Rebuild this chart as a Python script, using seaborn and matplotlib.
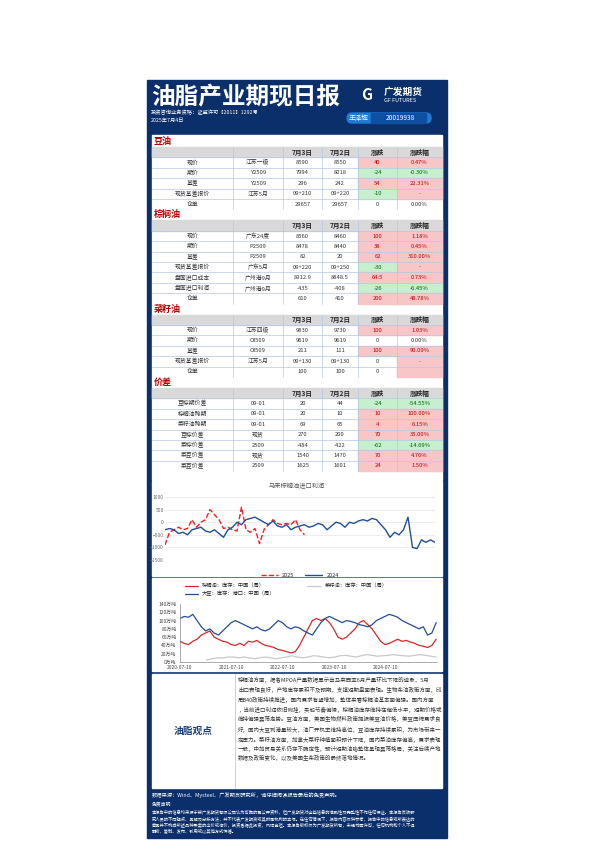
import textwrap
import numpy as np
import pandas as pd
import matplotlib
matplotlib.use("Agg")
import matplotlib.pyplot as plt
from matplotlib.patches import Rectangle, FancyBboxPatch
import seaborn as sns

sns.set_theme(style="white")
plt.rcParams['font.family'] = ['Noto Sans CJK SC', 'DejaVu Sans']

NAVY = "#0b2f6b"
PINK = "#f8c6c6"
GREEN = "#c6efce"
RED_TXT = "#c00000"
GREEN_TXT = "#006100"

# ---------------- table data ----------------
dates = ["7月3日", "7月2日"]
head = ["", "", dates[0], dates[1], "涨跌", "涨跌幅"]

soy_rows = [
    ["现价", "江苏一级", "8590", "8550", "40", "0.47%"],
    ["期价", "Y2509", "7994", "8018", "-24", "-0.30%"],
    ["基差", "Y2509", "296", "242", "54", "22.31%"],
    ["现货基差报价", "江苏5月", "09+210", "09+220", "-10", "-"],
    ["仓单", "", "29657", "29657", "0", "0.00%"],
]
palm_rows = [
    ["现价", "广东24度", "8560", "8460", "100", "1.18%"],
    ["期价", "P2509", "8478", "8440", "38", "0.45%"],
    ["基差", "P2509", "82", "20", "62", "310.00%"],
    ["现货基差报价", "广东5月", "09+220", "09+250", "-30", "-"],
    ["盘面进口成本", "广州港9月", "8912.9", "8848.5", "64.5", "0.73%"],
    ["盘面进口利润", "广州港9月", "-435", "-408", "-26", "-6.45%"],
    ["仓单", "", "610", "410", "200", "48.78%"],
]
rape_rows = [
    ["现价", "江苏四级", "9830", "9730", "100", "1.03%"],
    ["期价", "OI509", "9619", "9619", "0", "0.00%"],
    ["基差", "OI509", "211", "111", "100", "90.09%"],
    ["现货基差报价", "江苏5月", "09+130", "09+130", "0", "-"],
    ["仓单", "", "100", "100", "0", ""],
]
spread_rows = [
    ["豆棕期价差", "09-01", "20", "44", "-24", "-54.55%"],
    ["棕榈油跨期", "09-01", "20", "10", "10", "100.00%"],
    ["菜籽油跨期", "09-01", "69", "65", "4", "6.15%"],
    ["豆棕价差", "现货", "270", "200", "70", "35.00%"],
    ["菜棕价差", "2509", "-484", "-422", "-62", "-14.69%"],
    ["菜豆价差", "现货", "1540", "1470", "70", "4.76%"],
    ["菜豆价差", "2509", "1625", "1601", "24", "1.50%"],
]
sections = [("豆油", soy_rows), ("棕榈油", palm_rows), ("菜籽油", rape_rows), ("价差", spread_rows)]

# ---------------- chart data ----------------
profit_2025 = [-900, -400, -300, -200, -300, -250, 100, -200, 0, 100, 500, 300, 100, -250, -200, -300,
               -350, 600, -300, -400, -250, -850, -300, -100, 100, -50, -100, -50, -100, 100, -300, -500]
profit_2024 = [-300, -250, -300, -450, -400, -500, -300, -250, -200, -350, -400, -300, -450, -600, -300, -200,
               0, -100, 100, 150, 200, 100, 0, -100, 50, -150, -200, -100, -300, -200, -150, -100, -200, -150,
               -50, -100, -300, -150, 0, -50, -200, 0, -50, 50, 100, 50, 150, 100, -100, -300, -600, -400, -500,
               -300, 200, -1000, -1050, -700, -800, -700, -800]

palm_stock = [50, 45, 42, 50, 55, 65, 70, 75, 60, 55, 50, 48, 42, 40, 45, 40, 50, 48, 52, 45, 40, 38, 35, 30, 28,
              25, 22, 25, 40, 60, 80, 100, 105, 100, 105, 95, 80, 60, 55, 60, 70, 80, 95, 100, 90, 80, 65, 50, 42,
              45, 50, 55, 50, 52, 48, 45, 40, 38, 35, 40, 55]
soy_stock = [105, 110, 108, 115, 100, 85, 75, 80, 70, 65, 75, 85, 95, 100, 95, 90, 85, 80, 85, 78, 75, 80, 90, 100,
             95, 85, 80, 85, 82, 75, 70, 65, 80, 95, 105, 110, 105, 100, 95, 100, 98, 95, 90, 88, 85, 90, 100, 105,
             110, 115, 112, 108, 100, 95, 90, 85, 80, 85, 65, 70, 95]
rape_stock = [5, 8, 10, 10, 12, 12, 10, 12, 10, 8, 10, 12, 10, 8, 10, 12, 15, 12, 10, 12, 15, 14, 12, 10, 12, 15,
              16, 14, 12, 15, 18, 16, 14, 15, 16, 18, 16, 15, 14, 16, 18, 16, 14, 12]

viewpoint = ("棕榈油方面，据者MPOA产量数据显示出马来西亚6月产量环比下降的迹象，5月出口表现良好，"
             "产地库存累积不及预期，支撑短期盘面表现。生物柴油政策方面，印尼B40政策持续推进，"
             "国内需求有望增加，整体来看棕榈油基本面偏强。国内方面，当前进口利润依旧倒挂，"
             "买船节奏偏慢，棕榈油库存维持在偏低水平，短期价格或维持偏强震荡走势。"
             "豆油方面，美国生物燃料政策提振美豆油价格，美豆压榨需求良好，国内大豆到港量较大，"
             "油厂开机率维持高位，豆油库存持续累积，为市场带来一定压力。菜籽油方面，"
             "加拿大菜籽种植面积预计下降，国内菜油库存偏高，需求表现一般，中加贸易关系仍存不确定性，"
             "预计短期油脂整体呈现震荡格局，关注后续产地数据及政策变化，以及美国生柴政策的最终落地情况。")
disclaimer = ("本报告中的信息均来源于被广发期货有限公司认为可靠的已公开资料，但广发期货对这些信息的准确性及完整性不作任何保证。"
              "本报告反映研究人员的不同观点、见解及分析方法，并不代表广发期货或其附属机构的立场。在任何情况下，"
              "报告内容仅供参考，报告中的信息或所表达的意见并不构成所述品种买卖的出价或询价，投资者据此投资，风险自担。"
              "本报告版权仅为广发期货所有，未经书面许可，任何机构和个人不得翻版、复制、发布、引用或以其他方式传播。")

# ---------------- page ----------------
fig = plt.figure(figsize=(5.95, 8.42), dpi=100)
bg = fig.add_axes([0, 0, 1, 1])
bg.set_xlim(0, 595)
bg.set_ylim(842, 0)
bg.axis("off")

L, R = 147, 447
bg.add_patch(Rectangle((L, 80), R - L, 758, color=NAVY, zorder=0))
bg.text(151, 97, "油脂产业期现日报", color="white", fontsize=17, fontweight="bold", va="center")
bg.text(151, 112, "投资咨询业务资格：证监许可【2011】1292号", color="white", fontsize=3.8, va="center")
bg.text(151, 120, "2025年7月4日", color="white", fontsize=3.8, va="center")
bg.text(372, 95, "G", color="white", fontsize=11, fontweight="bold", va="center", ha="right", style="italic")
bg.text(384, 92, "广发期货", color="white", fontsize=7, fontweight="bold", va="center", ha="left")
bg.text(384, 100, "GF FUTURES", color="white", fontsize=4, va="center", ha="left")
bg.add_patch(FancyBboxPatch((347, 113), 84, 10, boxstyle="round,pad=0,rounding_size=5",
                            color="#1f7ad4", zorder=1))
bg.add_patch(Rectangle((371, 113), 55, 10, color="#0d4fa0", zorder=1))
bg.text(359, 118, "王泽辉", color="white", fontsize=4.8, ha="center", va="center", zorder=2)
bg.text(400, 118, "20019938", color="white", fontsize=4.8, ha="center", va="center", zorder=2)

# table area
TL, TR = 152, 442
bg.add_patch(Rectangle((TL, 135), TR - TL, 345, color="white", zorder=1))
col_x = [152, 233, 283, 322, 358, 397, 442]
rh = 10.4


def cell_color(val, text):
    if text in ("-", ""):
        return PINK
    v = float(val)
    return PINK if v > 0 else (GREEN if v < 0 else "white")


y = 137
for title, rows in sections:
    bg.text(TL + 2, y + 4.5, title, color=RED_TXT, fontsize=6.5, fontweight="bold", va="center", zorder=3)
    y += 10
    bg.add_patch(Rectangle((TL, y), TR - TL, rh, color="#d9d9d9", zorder=2))
    for j, h in enumerate(head):
        if h:
            bg.text((col_x[j] + col_x[j + 1]) / 2, y + rh / 2, h, fontsize=4.8, fontweight="bold",
                    ha="center", va="center", zorder=3)
    top = y
    y += rh
    for r in rows:
        for j in (4, 5):
            c = cell_color(r[4], r[j])
            if c != "white":
                bg.add_patch(Rectangle((col_x[j], y), col_x[j + 1] - col_x[j], rh, color=c, zorder=2))
        for j, t in enumerate(r):
            col = "#333333"
            if j >= 4 and t not in ("", "-"):
                v = float(r[4])
                col = RED_TXT if v > 0 else (GREEN_TXT if v < 0 else "#333333")
            bg.text((col_x[j] + col_x[j + 1]) / 2, y + rh / 2, t, fontsize=4.2, color=col,
                    ha="center", va="center", zorder=3)
        bg.plot([TL, TR], [y, y], color="#b4c6e7", lw=0.5, zorder=3)
        y += rh
    for xx in col_x[1:-1]:
        bg.plot([xx, xx], [top, y], color="#b4c6e7", lw=0.5, zorder=3)
    y += 1

# chart 1 panel
bg.add_patch(Rectangle((TL, 481), TR - TL, 95, color="white", zorder=1))
bg.text(297, 486, "马来棕榈油进口利润", fontsize=4.5, color="#555555", ha="center", va="center", zorder=3)
ax1 = fig.add_axes([165 / 595, 1 - 560 / 842, 270 / 595, 63 / 842])
df24 = pd.DataFrame({"wk": np.arange(1, len(profit_2024) + 1), "v": profit_2024})
df25 = pd.DataFrame({"wk": np.arange(1, len(profit_2025) + 1), "v": profit_2025})
sns.lineplot(data=df25, x="wk", y="v", ax=ax1, color="#ff1a1a", lw=1.0, linestyle="--", label="2025")
sns.lineplot(data=df24, x="wk", y="v", ax=ax1, color="#1f4e9c", lw=1.0, label="2024")
ax1.set_ylim(-1500, 1000)
ax1.set_yticks([-1500, -1000, -500, 0, 500, 1000])
ax1.set_xlim(1, len(profit_2024))
ax1.set_xticks([])
ax1.set_xlabel("")
ax1.set_ylabel("")
ax1.tick_params(labelsize=3.5, colors="#666666", length=0, pad=1)
ax1.grid(axis="y", color="#dddddd", lw=0.4)
for s in ax1.spines.values():
    s.set_visible(False)
ax1.legend(loc="upper center", bbox_to_anchor=(0.5, -0.12), ncol=2, fontsize=4, frameon=False,
           handlelength=3)

# chart 2 panel
bg.add_patch(Rectangle((TL, 578), TR - TL, 93, color="white", zorder=1))
ax2 = fig.add_axes([180 / 595, 1 - 662 / 842, 257 / 595, 58 / 842])
d_main = pd.date_range("2020-07-10", "2025-07-04", periods=len(palm_stock))
d_rape = pd.date_range("2021-01-15", "2025-07-04", periods=len(rape_stock))
sns.lineplot(x=d_main, y=palm_stock, ax=ax2, color="#d62728", lw=0.9, label="棕榈油：库存：中国（周）")
sns.lineplot(x=d_main, y=soy_stock, ax=ax2, color="#1f4e9c", lw=0.9, label="大豆：库存：港口：中国（周）")
sns.lineplot(x=d_rape, y=rape_stock, ax=ax2, color="#c8c8c8", lw=0.9, label="菜籽油：库存：中国（周）")
ax2.set_ylim(0, 140)
ax2.set_yticks(range(0, 141, 20))
ax2.set_yticklabels([f"{v}万吨" for v in range(0, 141, 20)])
ticks = pd.to_datetime(["2020-07-10", "2021-07-10", "2022-07-10", "2023-07-10", "2024-07-10"])
ax2.set_xticks(ticks)
ax2.set_xticklabels([t.strftime("%Y-%m-%d") for t in ticks])
ax2.set_xlim(pd.Timestamp("2020-07-10"), pd.Timestamp("2025-07-10"))
ax2.set_xlabel("")
ax2.set_ylabel("")
ax2.tick_params(labelsize=3.5, colors="#444444", length=1.5, pad=1)
for s in ["top", "right"]:
    ax2.spines[s].set_visible(False)
for s in ["left", "bottom"]:
    ax2.spines[s].set_color("#888888")
    ax2.spines[s].set_linewidth(0.5)
ax2.legend(loc="lower left", bbox_to_anchor=(0.0, 1.05), ncol=2, fontsize=3.8, frameon=False,
           handlelength=2.5, columnspacing=6)

# viewpoint box
bg.add_patch(Rectangle((TL, 674), TR - TL, 114, color="white", zorder=1))
bg.plot([235, 235], [674, 788], color="#b4c6e7", lw=0.6, zorder=3)
bg.text(193, 731, "油脂观点", fontsize=7, color="#1f3f7a", fontweight="bold", ha="center", va="center", zorder=3)
for i, line in enumerate(textwrap.wrap(viewpoint, 37)):
    bg.text(238, 680 + i * 9.8, line, fontsize=3.95, color="#333333", va="center", zorder=3)

bg.text(TL, 795, "数据来源：Wind、Mysteel、广发期货研究所，请仔细阅读报告最后的免责声明。",
        fontsize=3.8, color="white", va="center")
bg.text(TL, 805, "免责声明", fontsize=3.5, color="white", va="center")
for i, line in enumerate(textwrap.wrap(disclaimer, 62)):
    bg.text(TL, 813 + i * 6.3, line, fontsize=3.1, color="white", va="center")

fig.savefig("out.png", dpi=100)
